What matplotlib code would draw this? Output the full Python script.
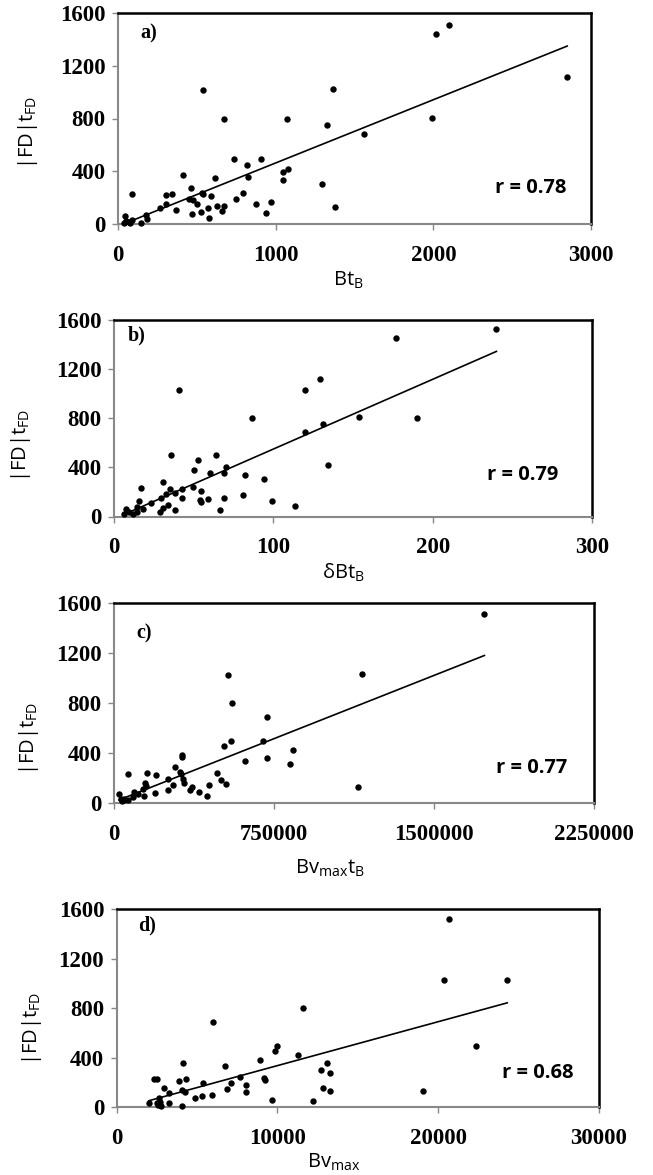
import numpy as np
import matplotlib
matplotlib.use("Agg")
import matplotlib.pyplot as plt

plt.rcParams['mathtext.fontset'] = 'custom'
plt.rcParams['mathtext.rm'] = 'Open Sans'
plt.rcParams['mathtext.it'] = 'Open Sans:italic'
plt.rcParams['mathtext.bf'] = 'Open Sans:bold'

# ---------------- data ----------------
a_x = [87, 541, 672, 1074, 1325, 1365, 734, 909, 818, 827, 615, 414, 1048, 1080, 1048, 1294,
       463, 531, 302, 345, 266, 302, 366, 448, 478, 501, 537, 588, 526, 467, 571, 577, 628,
       672, 662, 750, 793, 877, 938, 968, 176, 182, 146, 89, 67, 46, 50, 38, 76, 1558, 2016,
       2099, 2849, 1993, 1378]
a_y = [230, 1018, 794, 796, 748, 1026, 493, 493, 450, 354, 351, 374, 394, 417, 331, 301,
       275, 237, 220, 230, 121, 154, 109, 187, 184, 154, 230, 210, 91, 73, 121, 48, 136,
       134, 96, 190, 237, 149, 86, 169, 68, 40, 10, 30, 15, 63, 22, 10, 5, 680, 1443,
       1509, 1112, 804, 126]

b_x = [40.8, 86.3, 119.9, 129.4, 119.6, 131.1, 134, 35.5, 63.9, 52.5, 50.2, 60.5, 70.4, 69.1,
       82.1, 93.9, 30.9, 16.8, 35.3, 42.9, 32.8, 38.4, 49.6, 54.4, 42.9, 29.8, 23.1, 15.9,
       53.8, 54.6, 59, 69.1, 80.9, 99.3, 113.8, 66.4, 38, 33.6, 30.6, 28.6, 18.1, 7.6, 14.3,
       14.3, 12, 6.3, 9.5, 176.9, 240, 153.9, 190.3]
b_y = [1028, 797, 1030, 1120, 689, 751, 421, 497, 497, 456, 375, 356, 399, 353,
       334, 302, 278, 232, 221, 226, 185, 191, 240, 210, 150, 153, 107, 123,
       134, 120, 140, 150, 175, 126, 85, 50, 55, 93, 67, 40, 64, 64, 77,
       40, 20, 20, 40, 1453, 1520, 808, 803]

c_x = [534400, 553100, 715800, 695600, 548400, 515600, 717200, 611200, 837700, 823600, 318800,
       317300, 284500, 309400, 312600, 323400, 324800, 253100, 276600, 253100, 362800, 354800,
       398400, 445300, 434500, 481400, 498800, 523600, 153300, 196900, 145300, 147200, 135900,
       190800, 137800, 90900, 89100, 112500, 62800, 22000, 31400, 45500, 62800, 37500, 46000,
       1736000, 1164000, 1142000]
c_y = [1027, 798, 688, 498, 498, 457, 361, 337, 423, 308, 385,
       369, 284, 249, 227, 190, 158, 190, 139, 99, 126, 102,
       87, 139, 56, 241, 180, 152, 236, 225, 161, 134, 107,
       75, 55, 82, 45, 71, 233, 71, 26, 33, 18, 13, 20,
       1517, 1030, 128]

d_x = [5974, 11574, 9975, 9832, 11282, 8936, 6739, 4126, 3858, 4331, 2321, 2526, 5370, 7654,
       7113, 6864, 8046, 8046, 9185, 9210, 2925, 3236, 4045, 4250, 4854, 5308, 5930, 9645,
       12197, 12732, 13068, 13254, 12819, 13254, 2010, 2632, 2695, 2489, 2757, 3236, 4064,
       2560, 20697, 20367, 24306, 22377, 19060]
d_y = [685, 798, 497, 456, 422, 379, 336, 355, 212, 228, 231, 231, 193, 242,
       193, 150, 178, 124, 239, 217, 156, 113, 139, 124, 75, 94, 97, 56,
       54, 301, 357, 279, 153, 134, 35, 72, 45, 32, 13, 35, 13,
       19, 1516, 1024, 1030, 497, 129]

panel_labels = ['a)', 'b)', 'c)', 'd)']
r_labels = ['r = 0.78', 'r = 0.79', 'r = 0.77', 'r = 0.68']
x_labels = [r'Bt$_{\mathrm{B}}$', r'δBt$_{\mathrm{B}}$',
            r'Bv$_{\mathrm{max}}$t$_{\mathrm{B}}$', r'Bv$_{\mathrm{max}}$']
y_label = r'|FD|t$_{\mathrm{FD}}$'
x_ticks = [[0, 1000, 2000, 3000], [0, 100, 200, 300],
           [0, 750000, 1500000, 2250000], [0, 10000, 20000, 30000]]
y_ticks = [0, 400, 800, 1200, 1600]

# ---------------- layout ----------------
W, H = 653, 1175
fig = plt.figure(figsize=(W / 100, H / 100), dpi=100)

# axes boxes in pixels: left, right, top, bottom
boxes = [(118, 591, 13, 224), (114, 592, 319.5, 516.5),
         (114.3, 594, 603.3, 802.7), (116.7, 598.7, 909, 1107.3)]
xlab_pos = [(0.486, -0.265), (0.480, -0.285), (0.45, -0.33), (0.45, -0.28)]
ylab_pos = [(-0.19, 0.436), (-0.195, 0.363), (-0.178, 0.324), (-0.176, 0.40)]
plab_pos = [(0.047, 0.905), (0.029, 0.921), (0.047, 0.851), (0.044, 0.919)]
r_pos = [(0.949, 0.171), (0.929, 0.211), (0.944, 0.174), (0.949, 0.173)]

data = [(a_x, a_y), (b_x, b_y), (c_x, c_y), (d_x, d_y)]
gray = '#888888'
serif = 'Liberation Serif'
sans = ['Open Sans', 'DejaVu Sans']

for i, ((xs, ys), (l, r, t, b)) in enumerate(zip(data, boxes)):
    ax = fig.add_axes([l / W, 1 - b / H, (r - l) / W, (b - t) / H])
    xs = np.asarray(xs, float)
    ys = np.asarray(ys, float)
    ax.plot(xs, ys, 'o', color='black', ms=4.6, mec='none', clip_on=False, zorder=3)
    k, c0 = np.polyfit(xs, ys, 1)
    xx = np.array([xs.min(), xs.max()])
    ax.plot(xx, k * xx + c0, color='black', lw=1.2, zorder=2)

    xt = x_ticks[i]
    ax.set_xlim(xt[0], xt[-1])
    ax.set_ylim(0, 1600)
    ax.set_xticks(xt, [str(v) for v in xt])
    ax.set_yticks(y_ticks, [str(v) for v in y_ticks])
    for lab in ax.get_xticklabels() + ax.get_yticklabels():
        lab.set_fontfamily(serif)
        lab.set_fontweight('bold')
        lab.set_fontsize(16.5)
    ax.tick_params(axis='x', direction='out', length=4, width=1, color=gray, pad=11)
    ax.tick_params(axis='y', direction='out', length=4, width=1, color=gray, pad=5)

    for s in ('left', 'bottom'):
        ax.spines[s].set_color(gray)
        ax.spines[s].set_linewidth(1.5)
    for s in ('top', 'right'):
        ax.spines[s].set_color('black')
        ax.spines[s].set_linewidth(1.8)

    ax.set_xlabel(x_labels[i], fontsize=14.5, family=sans)
    ax.xaxis.set_label_coords(*xlab_pos[i])
    ax.xaxis.label.set_va('center')
    ax.set_ylabel(y_label, fontsize=14.5, family=sans)
    ax.yaxis.set_label_coords(*ylab_pos[i])
    ax.yaxis.label.set_va('center')

    ax.text(*plab_pos[i], panel_labels[i], transform=ax.transAxes, family=serif,
            fontweight='bold', fontsize=14.5, ha='left', va='center')
    ax.text(*r_pos[i], r_labels[i], transform=ax.transAxes, family=sans,
            fontweight='bold', fontsize=14.5, ha='right', va='center')

fig.savefig('out.png', dpi=100)
